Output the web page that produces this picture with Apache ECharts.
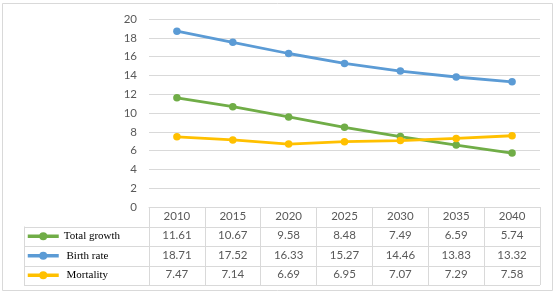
<!DOCTYPE html>
<html>
<head>
<meta charset="utf-8">
<script src="https://cdn.jsdelivr.net/npm/echarts@6/dist/echarts.min.js"></script>
<style>
html,body{margin:0;padding:0;background:#fff;}
#chart{width:557px;height:296px;}
</style>
</head>
<body>
<div id="chart"></div>
<script>
const years = ['2010','2015','2020','2025','2030','2035','2040'];
const seriesNames = ['Total growth','Birth rate','Mortality'];
const totalGrowth = [11.61,10.67,9.58,8.48,7.49,6.59,5.74];
const birthRate = [18.71,17.52,16.33,15.27,14.46,13.83,13.32];
const mortality = [7.47,7.14,6.69,6.95,7.07,7.29,7.58];
const yTicks = [0,2,4,6,8,10,12,14,16,18,20];

const colors = ['#70AD47','#5B9BD5','#FFC000'];
const allData = [totalGrowth, birthRate, mortality];

const GRID = {left:149, right:17, top:19, bottom:89};
const ROW = 19.5;
const gridBottomY = 296 - GRID.bottom; // 207
const tableBottom = gridBottomY + ROW*4;
const tableLeft = 24;
const tableRight = 557 - GRID.right;

const numFont = 'Lato, "Open Sans", sans-serif';
const gridLineColor = '#D9D9D9';

const xAxes = [{
  type:'category', data: years, gridIndex:0, position:'bottom',
  boundaryGap:true,
  axisLine:{show:true, lineStyle:{color:gridLineColor}},
  axisTick:{show:true, alignWithLabel:false, interval:0, length: ROW*4, lineStyle:{color:gridLineColor}},
  axisLabel:{show:true, interval:0, color:'#595959', fontSize:11.5, fontFamily:numFont, margin:3}
}];
allData.forEach((arr,i)=>{
  xAxes.push({
    type:'category', data: arr.map(v=>v.toFixed(2)), gridIndex:0, position:'bottom',
    offset: ROW*(i+1),
    axisLine:{show:false}, axisTick:{show:false}, splitLine:{show:false},
    axisLabel:{show:true, interval:0, color:'#595959', fontSize:11.5, fontFamily:numFont, margin:3}
  });
});

const chart = echarts.init(document.getElementById('chart'), null, {renderer:'canvas'});
const option = {
  animation:false,
  backgroundColor:'#fff',
  color: colors,
  grid: GRID,
  xAxis: xAxes,
  yAxis: {
    type:'value', min:0, max:20, interval:2,
    axisLine:{show:false}, axisTick:{show:false},
    axisLabel:{color:'#595959', fontSize:11.5, fontFamily:numFont, margin:12,
      formatter: v => yTicks.includes(v) ? String(v) : ''},
    splitLine:{show:true, lineStyle:{color:gridLineColor, width:1}}
  },
  legend: {
    orient:'vertical', left:26, top: gridBottomY + ROW + 2.75, padding:0,
    itemWidth:31, itemHeight:10, itemGap: ROW-14,
    data: seriesNames,
    lineStyle:{width:3.5},
    formatter: name => name === seriesNames[0] ? name : ' ' + name,
    textStyle:{fontFamily:'"Liberation Serif", "Times New Roman", serif', fontSize:11, color:'#000', lineHeight:14}
  },
  series: seriesNames.map((name,i)=>({
    name, type:'line', data: allData[i], xAxisIndex:0,
    symbol:'circle', symbolSize:7.5,
    lineStyle:{width:2.8, color:colors[i]},
    itemStyle:{color:colors[i]}
  })),
  graphic: [
    {type:'rect', shape:{x:2.5, y:3.5, width:550, height:287}, style:{fill:'none', stroke:gridLineColor, lineWidth:1}, silent:true},
    {type:'line', shape:{x1:tableLeft+0.5, y1:gridBottomY+ROW, x2:tableLeft+0.5, y2:tableBottom}, style:{stroke:gridLineColor, lineWidth:1}, silent:true}
  ].concat([1,2,3,4].map(k=>({
    type:'line', shape:{x1:tableLeft, y1:Math.round(gridBottomY+ROW*k)+0.5, x2:tableRight, y2:Math.round(gridBottomY+ROW*k)+0.5},
    style:{stroke:gridLineColor, lineWidth:1}, silent:true
  })))
};
chart.setOption(option);
</script>
</body>
</html>
